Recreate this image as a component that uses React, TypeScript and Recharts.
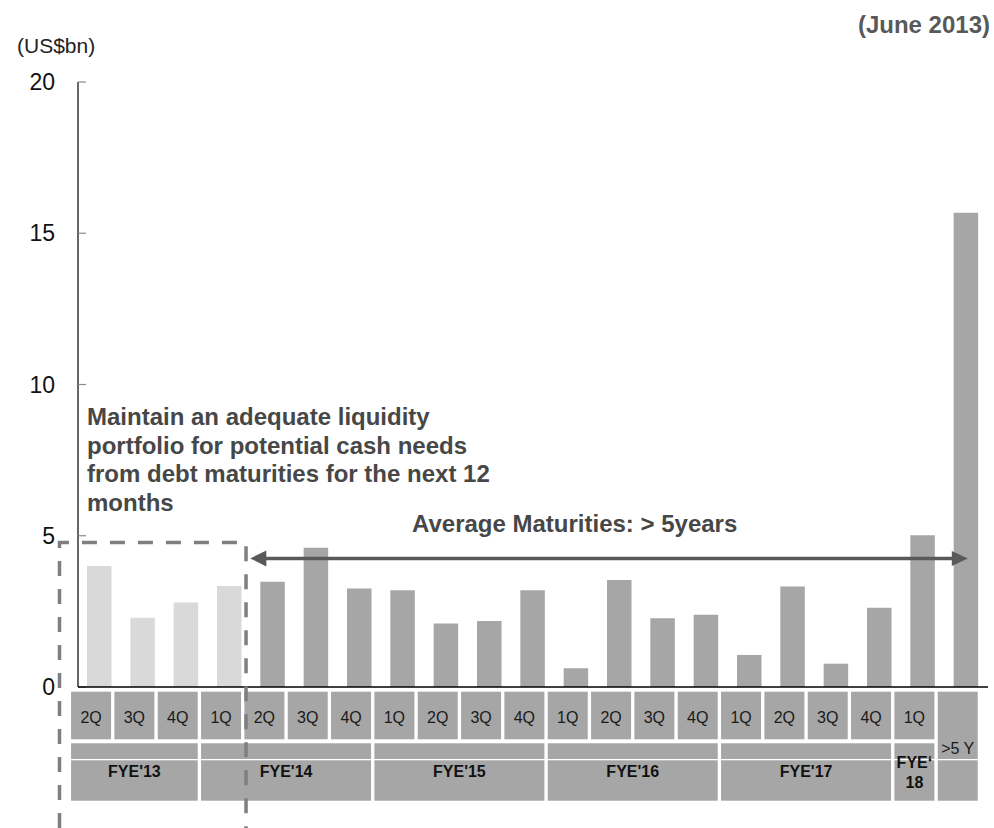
import React from 'react';
import { BarChart, Bar, XAxis, YAxis, Cell } from 'recharts';

// ---------- data ----------
const categories = [
  '2Q13', '3Q13', '4Q13', '1Q14', '2Q14', '3Q14', '4Q14',
  '1Q15', '2Q15', '3Q15', '4Q15', '1Q16', '2Q16', '3Q16', '4Q16',
  '1Q17', '2Q17', '3Q17', '4Q17', '1Q18', '>5Y',
];
const quarterLabels = [
  '2Q', '3Q', '4Q', '1Q', '2Q', '3Q', '4Q',
  '1Q', '2Q', '3Q', '4Q', '1Q', '2Q', '3Q', '4Q',
  '1Q', '2Q', '3Q', '4Q', '1Q', '>5 Y',
];
const maturities = [
  4.0, 2.29, 2.79, 3.34, 3.48, 4.6, 3.26,
  3.2, 2.1, 2.18, 3.2, 0.62, 3.54, 2.27, 2.39,
  1.06, 3.32, 0.77, 2.62, 5.02, 15.68,
];
const yearLabels = [["FYE'13"], ["FYE'14"], ["FYE'15"], ["FYE'16"], ["FYE'17"], ['FYE\u2018', '18']];
const yearSpans = [3, 4, 4, 4, 4, 1];
const yTicks = [0, 5, 10, 15, 20];
const next12MonthsCount = 4; // bars covered by the liquidity portfolio
const avgLineLevel = 4.25;
const liquidityBoxLevel = 4.78;

const data = categories.map((c, i) => ({ name: c, value: maturities[i] }));

// ---------- layout ----------
const W = 994;
const H = 828;
const PLOT_L = 78;
const PLOT_R = 988;
const PLOT_T = 82;
const PLOT_B = 687;
const N = categories.length;
const STEP = (PLOT_R - PLOT_L) / N;
const BOX_SHIFT = -8.6;
const BOX_HALF = 20;
const FONT = "'Liberation Sans', Arial, Helvetica, sans-serif";
const BOX_FILL = '#a6a6a6';

const yOf = (v: number) => PLOT_B - (v * (PLOT_B - PLOT_T)) / 20;
const xCenter = (i: number) => PLOT_L + (i + 0.5) * STEP;

// group start index -> group index
const groupStarts: Record<number, number> = {};
{
  let s = 0;
  yearSpans.forEach((n, g) => {
    groupStarts[s] = g;
    s += n;
  });
}

function CategoryTick(props: any) {
  const { x, y } = props;
  const i: number = props.payload?.index ?? props.index;
  const bx = x + BOX_SHIFT;
  const items: React.ReactNode[] = [];
  const q = quarterLabels[i];
  if (i === N - 1) {
    items.push(
      <rect key="a" x={bx - BOX_HALF} y={y + 4.7} width={BOX_HALF * 2} height={67.3} fill={BOX_FILL} />,
      <rect key="c" x={bx - BOX_HALF} y={y + 73.3} width={BOX_HALF * 2} height={40.4} fill={BOX_FILL} />,
      <text key="t" x={bx} y={y + 67} textAnchor="middle" fontSize={16} fill="#1a1a1a" fontFamily={FONT}>
        {q}
      </text>
    );
  } else {
    items.push(
      <rect key="a" x={bx - BOX_HALF} y={y + 4.7} width={BOX_HALF * 2} height={47.6} fill={BOX_FILL} />,
      <text key="t" x={bx} y={y + 35.5} textAnchor="middle" fontSize={16} fill="#1a1a1a" fontFamily={FONT}>
        {q}
      </text>
    );
    const g = groupStarts[i];
    if (g !== undefined) {
      const n = yearSpans[g];
      const left = bx - BOX_HALF;
      const right = bx + (n - 1) * STEP + BOX_HALF;
      const cx = (left + right) / 2;
      const lines = yearLabels[g];
      items.push(
        <rect key="b" x={left} y={y + 56.3} width={right - left} height={15.7} fill={BOX_FILL} />,
        <rect key="c" x={left} y={y + 73.3} width={right - left} height={40.4} fill={BOX_FILL} />
      );
      if (lines.length === 1) {
        items.push(
          <text key="y" x={cx} y={y + 89.7} textAnchor="middle" fontSize={16} fontWeight="bold" fill="#111" fontFamily={FONT}>
            {lines[0]}
          </text>
        );
      } else {
        items.push(
          <text key="y1" x={cx} y={y + 80.5} textAnchor="middle" fontSize={16} fontWeight="bold" fill="#111" fontFamily={FONT}>
            {lines[0]}
          </text>,
          <text key="y2" x={cx} y={y + 100.5} textAnchor="middle" fontSize={16} fontWeight="bold" fill="#111" fontFamily={FONT}>
            {lines[1]}
          </text>
        );
      }
    }
  }
  return <g>{items}</g>;
}

function Overlay() {
  const boxTop = yOf(liquidityBoxLevel);
  const boxLeft = PLOT_L - 18.5;
  const boxRight = PLOT_L + next12MonthsCount * STEP - 5.3;
  const ay = yOf(avgLineLevel);
  const ax1 = PLOT_L + next12MonthsCount * STEP - 1;
  const ax2 = xCenter(N - 1) + 1.5;
  const head = 16;
  const annot = [
    'Maintain an adequate liquidity',
    'portfolio for potential cash needs',
    'from debt maturities for the next 12',
    'months',
  ];
  return (
    <svg
      width={W}
      height={H}
      style={{ position: 'absolute', left: 0, top: 0, pointerEvents: 'none' }}
    >
      <text x={17} y={53} fontSize={21} fill="#222" fontFamily={FONT}>
        (US$bn)
      </text>
      <text x={990} y={33} textAnchor="end" fontSize={24} fontWeight="bold" fill="#595959" fontFamily={FONT}>
        (June 2013)
      </text>
      {annot.map((t, k) => (
        <text key={k} x={87} y={425 + k * 28.5} fontSize={24} fontWeight="bold" fill="#474747" fontFamily={FONT}>
          {t}
        </text>
      ))}
      <text x={412} y={531.7} fontSize={24} fontWeight="bold" fill="#474747" fontFamily={FONT}>
        Average Maturities: &gt; 5years
      </text>
      {/* arrow */}
      <line x1={ax1 + head - 2} y1={ay} x2={ax2 - head + 2} y2={ay} stroke="#595959" strokeWidth={3.4} />
      <polygon points={`${ax1},${ay} ${ax1 + head},${ay - 8} ${ax1 + head},${ay + 8}`} fill="#595959" />
      <polygon points={`${ax2},${ay} ${ax2 - head},${ay - 7.5} ${ax2 - head},${ay + 7.5}`} fill="#595959" />
      {/* dashed liquidity box */}
      <path
        d={`M${boxLeft},${H} L${boxLeft},${boxTop} L${boxRight},${boxTop} L${boxRight},${H}`}
        fill="none"
        stroke="#7f7f7f"
        strokeWidth={3.5}
        strokeDasharray="15 13"
      />
    </svg>
  );
}

export default function App() {
  return (
    <div style={{ position: 'absolute', left: 0, top: 0, width: W, height: H, background: '#fff' }}>
      <BarChart
        width={W}
        height={H}
        data={data}
        margin={{ top: PLOT_T, right: W - PLOT_R, left: 0, bottom: 0 }}
        barSize={24.5}
      >
        <YAxis
          width={PLOT_L}
          domain={[0, 20]}
          ticks={yTicks}
          interval={0}
          axisLine={{ stroke: '#000', strokeWidth: 1.2 }}
          tickLine={{ stroke: '#8a8a8a', strokeWidth: 1.2 }}
          tickSize={-8}
          tickMargin={31}
          tick={{ fontSize: 23, fill: '#111', fontFamily: FONT }}
        />
        <XAxis
          dataKey="name"
          height={H - PLOT_B}
          interval={0}
          tickLine={false}
          tickSize={0}
          tickMargin={0}
          axisLine={{ stroke: '#000', strokeWidth: 1.5 }}
          tick={<CategoryTick />}
        />
        <Bar dataKey="value" isAnimationActive={false}>
          {data.map((d, i) => (
            <Cell key={d.name} fill={i < next12MonthsCount ? '#d9d9d9' : '#a6a6a6'} />
          ))}
        </Bar>
      </BarChart>
      <Overlay />
    </div>
  );
}
